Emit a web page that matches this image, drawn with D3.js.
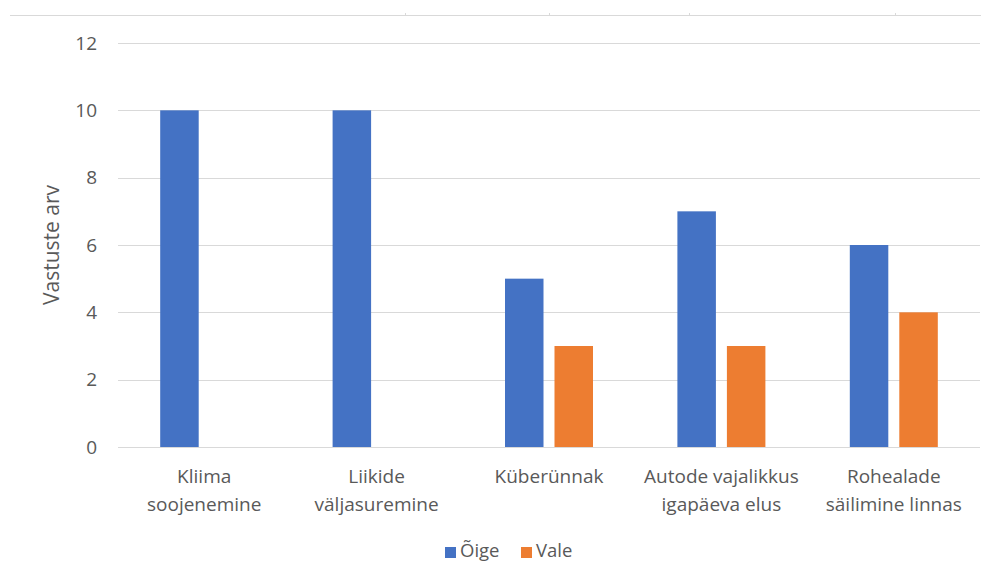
<!DOCTYPE html>
<html><head><meta charset="utf-8">
<script src="https://cdn.jsdelivr.net/npm/d3@7"></script>
<style>
body{margin:0;background:#fff;}
text{font-family:"Open Sans",sans-serif;fill:#595959;}
</style></head>
<body><svg id="c" width="981" height="563"></svg>
<script>
const categories = [["Kliima","soojenemine"],["Liikide","väljasuremine"],["Küberünnak"],["Autode vajalikkus","igapäeva elus"],["Rohealade","säilimine linnas"]];
const seriesNames = ["Õige","Vale"];
const oige = [10,10,5,7,6];
const vale = [0,0,3,3,4];
const yTicks = [0,2,4,6,8,10,12];
const colors = ["#4472C4","#ED7D31"];

const svg = d3.select("#c");
const W=981,H=563;
const m={left:118,right:1,top:43,bottom:116};
const x0 = d3.scaleBand().domain(d3.range(categories.length)).range([m.left,W-m.right]).paddingInner(0).paddingOuter(0);
const y = d3.scaleLinear().domain([0,12]).range([H-m.bottom,m.top]);
const bw = 38.5, gap = 11;

// top cropped line from neighbouring chart
svg.append("line").attr("x1",10).attr("x2",981).attr("y1",15.5).attr("y2",15.5).attr("stroke","#D9D9D9").attr("stroke-width",1);
[405,549,689,895].forEach(t=>svg.append("line").attr("x1",t+0.5).attr("x2",t+0.5).attr("y1",13).attr("y2",15).attr("stroke","#D9D9D9"));

// grid
const g = svg.append("g");
g.selectAll("line.grid").data(yTicks).join("line")
 .attr("x1",m.left).attr("x2",W-m.right)
 .attr("y1",d=>Math.round(y(d))+0.5).attr("y2",d=>Math.round(y(d))+0.5)
 .attr("stroke","#D9D9D9").attr("stroke-width",1);

const yAxis = d3.axisLeft(y).tickValues(yTicks).tickSize(0).tickPadding(0);
const ya = svg.append("g").attr("transform",`translate(97,0)`).call(yAxis);
ya.select(".domain").remove();
ya.selectAll("text").attr("font-size",19).style("font-family",'"Open Sans",sans-serif').attr("fill","#595959");

// bars
const data = categories.map((c,i)=>[oige[i],vale[i]]);
const grp = svg.selectAll("g.cat").data(data).join("g").attr("class","cat")
 .attr("transform",(d,i)=>`translate(${x0(i)+x0.bandwidth()/2},0)`);
grp.selectAll("rect").data(d=>d.map((v,k)=>({v,k}))).join("rect")
 .attr("x",d=> d.k===0 ? -(bw+gap/2) : gap/2)
 .attr("width",bw)
 .attr("y",d=>y(d.v)).attr("height",d=>y(0)-y(d.v))
 .attr("fill",d=>colors[d.k]);

// x labels
const xl = svg.selectAll("text.xl").data(categories).join("text").attr("class","xl")
 .attr("text-anchor","middle").attr("font-size",19)
 .attr("x",(d,i)=>x0(i)+x0.bandwidth()/2);
xl.each(function(d){
  const t=d3.select(this);
  d.forEach((s,j)=>t.append("tspan").attr("x",t.attr("x")).attr("y",483+j*28).text(s));
});

// y title
svg.append("text").attr("transform","translate(59,245) rotate(-90)").attr("text-anchor","middle")
 .attr("font-size",21).text("Vastuste arv");

// legend
const leg = [{n:seriesNames[0],x:445,c:colors[0]},{n:seriesNames[1],x:521,c:colors[1]}];
leg.forEach(l=>{
  svg.append("rect").attr("x",l.x).attr("y",547).attr("width",11).attr("height",11).attr("fill",l.c);
  svg.append("text").attr("x",l.x+15).attr("y",557).attr("font-size",18.5).text(l.n);
});
</script></body></html>
